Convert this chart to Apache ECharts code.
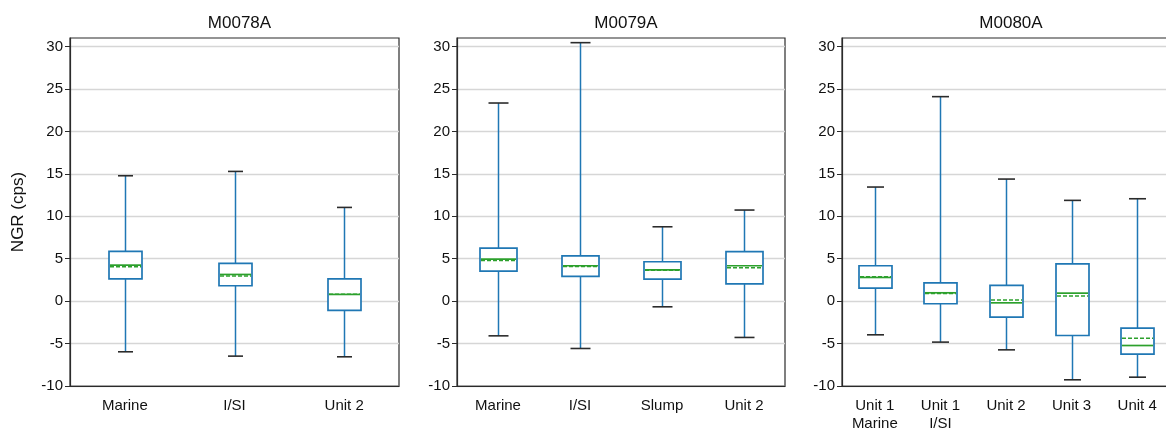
<!DOCTYPE html>
<html>
<head>
<meta charset="utf-8">
<script src="https://cdn.jsdelivr.net/npm/echarts@6/dist/echarts.min.js"></script>
<style>
html,body{margin:0;padding:0;background:#fff;}
#chart{width:1166px;height:429px;}
</style>
</head>
<body>
<div id="chart"></div>
<script>
// ---- Data ----
const siteNames = ['M0078A', 'M0079A', 'M0080A'];
const yTickValues = [-10, -5, 0, 5, 10, 15, 20, 25, 30];
const yAxisTitle = 'NGR (cps)';

const cats78 = ['Marine', 'I/SI', 'Unit 2'];
const min78  = [-5.97, -6.48, -6.56];
const q1_78  = [2.63, 1.81, -1.10];
const med78  = [4.24, 3.14, 0.79];
const q3_78  = [5.85, 4.44, 2.63];
const max78  = [14.77, 15.28, 11.04];
const mean78 = [4.05, 2.95, 0.82];

const cats79 = ['Marine', 'I/SI', 'Slump', 'Unit 2'];
const min79  = [-4.09, -5.58, -0.67, -4.28];
const q1_79  = [3.54, 2.91, 2.59, 2.04];
const med79  = [4.95, 4.17, 3.69, 4.17];
const q3_79  = [6.25, 5.34, 4.64, 5.82];
const max79  = [23.34, 30.45, 8.76, 10.73];
const mean79 = [4.79, 4.09, 3.65, 3.93];

const cats80 = ['Unit 1\nMarine', 'Unit 1\nI/SI', 'Unit 2', 'Unit 3', 'Unit 4'];
const min80  = [-3.97, -4.83, -5.74, -9.27, -8.96];
const q1_80  = [1.53, -0.31, -1.89, -4.05, -6.25];
const med80  = [2.79, 0.98, -0.20, 0.94, -5.23];
const q3_80  = [4.17, 2.16, 1.85, 4.40, -3.18];
const max80  = [13.44, 24.09, 14.38, 11.87, 12.06];
const mean80 = [2.87, 0.90, 0.12, 0.59, -4.36];

// ---- Build ----
const FONT = '"Liberation Sans", Arial, Helvetica, sans-serif';
const BLUE = '#1f77b4', GREEN = '#2ca02c', CAP = '#2b2b2b';

const panels = [
  {cats: cats78, mn: min78, q1: q1_78, md: med78, q3: q3_78, mx: max78, mean: mean78, left: 70,  width: 329, boxW: 33, capW: 15},
  {cats: cats79, mn: min79, q1: q1_79, md: med79, q3: q3_79, mx: max79, mean: mean79, left: 457, width: 328, boxW: 37, capW: 20},
  {cats: cats80, mn: min80, q1: q1_80, md: med80, q3: q3_80, mx: max80, mean: mean80, left: 842, width: 328, boxW: 33, capW: 17}
];

function makeRender(boxW, capW) {
  return function (params, api) {
    const x = api.value(0);
    const pMin = api.coord([x, api.value(1)]);
    const pQ1 = api.coord([x, api.value(2)]);
    const pMd = api.coord([x, api.value(3)]);
    const pQ3 = api.coord([x, api.value(4)]);
    const pMx = api.coord([x, api.value(5)]);
    const pMean = api.coord([x, api.value(6)]);
    const cx = Math.round(pMin[0]) + 0.5;
    const hb = boxW / 2, hc = capW / 2;
    const blue = {stroke: BLUE, lineWidth: 1.5, fill: null};
    return {
      type: 'group',
      children: [
        {type: 'line', shape: {x1: cx, y1: pQ1[1], x2: cx, y2: pMin[1]}, style: blue},
        {type: 'line', shape: {x1: cx, y1: pQ3[1], x2: cx, y2: pMx[1]}, style: blue},
        {type: 'line', shape: {x1: cx - hc, y1: pMin[1], x2: cx + hc, y2: pMin[1]}, style: {stroke: CAP, lineWidth: 1.6}},
        {type: 'line', shape: {x1: cx - hc, y1: pMx[1], x2: cx + hc, y2: pMx[1]}, style: {stroke: CAP, lineWidth: 1.6}},
        {type: 'rect', shape: {x: cx - hb, y: pQ3[1], width: boxW, height: pQ1[1] - pQ3[1]},
          style: {fill: '#ffffff', stroke: BLUE, lineWidth: 1.7}},
        {type: 'line', shape: {x1: cx - hb + 1, y1: pMean[1], x2: cx + hb - 1, y2: pMean[1]},
          style: {stroke: GREEN, lineWidth: 1.5, lineDash: [4, 2]}},
        {type: 'line', shape: {x1: cx - hb + 1, y1: pMd[1], x2: cx + hb - 1, y2: pMd[1]},
          style: {stroke: GREEN, lineWidth: 1.7}}
      ]
    };
  };
}

const option = {
  animation: false,
  backgroundColor: '#ffffff',
  textStyle: {fontFamily: FONT},
  title: [], grid: [], xAxis: [], yAxis: [], series: []
};

panels.forEach((p, i) => {
  option.title.push({
    text: siteNames[i], left: p.left + p.width / 2, top: 10, textAlign: 'center',
    textStyle: {fontFamily: FONT, fontSize: 17, fontWeight: 'normal', color: '#111'}
  });
  option.grid.push({
    left: p.left, top: 38, width: p.width, height: 348,
    outerBoundsMode: 'none', containLabel: false,
    show: true, borderColor: '#2b2b2b', borderWidth: 1.2, backgroundColor: 'transparent'
  });
  option.xAxis.push({
    type: 'category', gridIndex: i, data: p.cats, boundaryGap: true,
    axisLine: {onZero: false, lineStyle: {color: '#2b2b2b', width: 1.2}},
    axisTick: {alignWithLabel: true, length: 5, lineStyle: {color: '#2b2b2b'}},
    axisLabel: {color: '#111', fontSize: 15, fontFamily: FONT, margin: 11, lineHeight: 18, interval: 0},
    splitLine: {show: false}
  });
  option.yAxis.push({
    type: 'value', gridIndex: i, min: -10, max: 31, interval: 5,
    name: i === 0 ? yAxisTitle : '', nameLocation: 'middle', nameGap: 43, nameRotate: 90,
    nameTextStyle: {fontFamily: FONT, fontSize: 17, color: '#111'},
    axisLine: {show: true, onZero: false, lineStyle: {color: '#2b2b2b', width: 1.2}},
    axisTick: {show: true, length: 5, lineStyle: {color: '#2b2b2b'}, customValues: yTickValues},
    axisLabel: {color: '#111', fontSize: 15, fontFamily: FONT, margin: 7, customValues: yTickValues},
    splitLine: {show: true, lineStyle: {color: '#d6d6d6', width: 1.3}}
  });
  const data = p.cats.map((c, k) => [k, p.mn[k], p.q1[k], p.md[k], p.q3[k], p.mx[k], p.mean[k]]);
  option.series.push({
    type: 'custom', xAxisIndex: i, yAxisIndex: i, data: data,
    encode: {x: 0, y: [1, 2, 3, 4, 5, 6]},
    renderItem: makeRender(p.boxW, p.capW), clip: false, z: 3
  });
});

const chart = echarts.init(document.getElementById('chart'), null, {renderer: 'canvas'});
chart.setOption(option);
</script>
</body>
</html>
